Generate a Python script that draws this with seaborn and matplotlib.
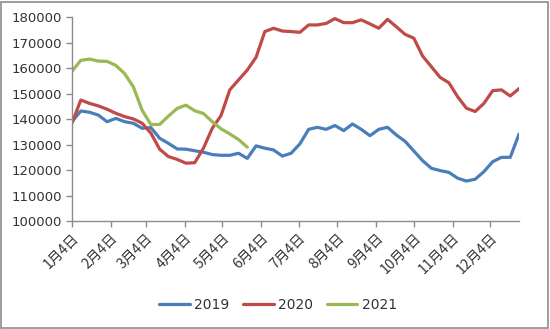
import numpy as np
import pandas as pd
import matplotlib
matplotlib.use("Agg")
import matplotlib.pyplot as plt
from matplotlib.patches import Rectangle
import seaborn as sns

# weekly observations starting Jan 4 (plotted on a common calendar)
start_date = "2019-01-04"
v2019 = [139000, 143200, 142700, 141600, 139000, 140300, 139000, 138400, 136400, 136700,
         132500, 130500, 128300, 128200, 127600, 127000, 126100, 125800, 125800, 126600,
         124600, 129500, 128600, 127900, 125500, 126600, 130300, 136000, 136800, 136000,
         137500, 135500, 138100, 136000, 133500, 136000, 136800, 133800, 131300, 127500,
         123700, 120700, 119800, 119100, 116800, 115700, 116400, 119400, 123300, 125000,
         125000, 134100]
v2020 = [138400, 147500, 146200, 145200, 143900, 142300, 141000, 140100, 138400, 134500,
         128200, 125300, 124200, 122700, 122900, 128600, 136400, 141400, 151500, 155400,
         159300, 164300, 174400, 175700, 174600, 174400, 174100, 177000, 177000, 177600,
         179500, 177900, 177900, 179000, 177400, 175700, 179200, 176300, 173300, 171800,
         164800, 160600, 156400, 154300, 148800, 144300, 143000, 146200, 151200, 151500,
         149100, 152000]
v2021 = [158800, 163100, 163600, 162800, 162700, 161100, 157900, 152700, 143500, 137900,
         137900, 141200, 144200, 145500, 143300, 142200, 139000, 136200, 134200, 132000,
         129000]
series_names = ["2019", "2020", "2021"]
colors = ["#4A7EBB", "#BE4B48", "#98B954"]
tick_labels = [f"{m}月4日" for m in range(1, 13)]
y_ticks = list(range(100000, 180001, 10000))

rows = []
for name, vals in zip(series_names, [v2019, v2020, v2021]):
    dates = pd.date_range(start_date, periods=len(vals), freq="7D")
    for d, v in zip(dates, vals):
        rows.append({"date": d, "value": v, "year": name})
df = pd.DataFrame(rows)

sns.set_theme(style="white")
plt.rcParams["font.family"] = ["DejaVu Sans", "Noto Sans CJK SC"]

fig = plt.figure(figsize=(5.5, 3.29), dpi=100)
ax = fig.add_axes([72 / 550, 1 - 221 / 329, (519 - 72) / 550, (221 - 17.3) / 329])

sns.lineplot(data=df, x="date", y="value", hue="year", palette=colors,
             hue_order=series_names, linewidth=2.3, ax=ax, legend=True)

ax.set_xlim(pd.Timestamp("2019-01-04"), pd.Timestamp("2019-12-27"))
ax.set_ylim(100000, 180000)
ax.set_yticks(y_ticks)
ax.set_yticklabels([str(v) for v in y_ticks], fontsize=9.5, color="#333333")
xt = [pd.Timestamp(f"2019-{m:02d}-04") for m in range(1, 13)]
ax.set_xticks(xt)
ax.set_xticklabels(tick_labels, rotation=45, ha="right", rotation_mode="anchor",
                   fontsize=10, color="#333333", family=["Noto Sans CJK SC", "DejaVu Sans"])
ax.set_xlabel("")
ax.set_ylabel("")
for s in ["top", "right"]:
    ax.spines[s].set_visible(False)
for s in ["left", "bottom"]:
    ax.spines[s].set_color("#8C8C8C")
    ax.spines[s].set_linewidth(1.0)
ax.tick_params(axis="both", which="major", direction="out", length=4, width=1,
               color="#8C8C8C", bottom=True, left=True)
ax.tick_params(axis="x", pad=3)
ax.tick_params(axis="y", pad=3)
ax.grid(False)

leg = ax.legend(loc="center", bbox_to_anchor=(278 / 550, 1 - 305 / 329),
                bbox_transform=fig.transFigure, ncol=3, frameon=False,
                fontsize=10, handlelength=2.2, handletextpad=0.3, columnspacing=1.0)
for text in leg.get_texts():
    text.set_color("#333333")
for line in leg.get_lines():
    line.set_linewidth(2.3)

fig.patches.append(Rectangle((1 / 550, 1 / 329), 547 / 550, 326 / 329, transform=fig.transFigure,
                             fill=False, edgecolor="#8C8C8C", linewidth=1.2))

fig.savefig("out.png", dpi=100)
